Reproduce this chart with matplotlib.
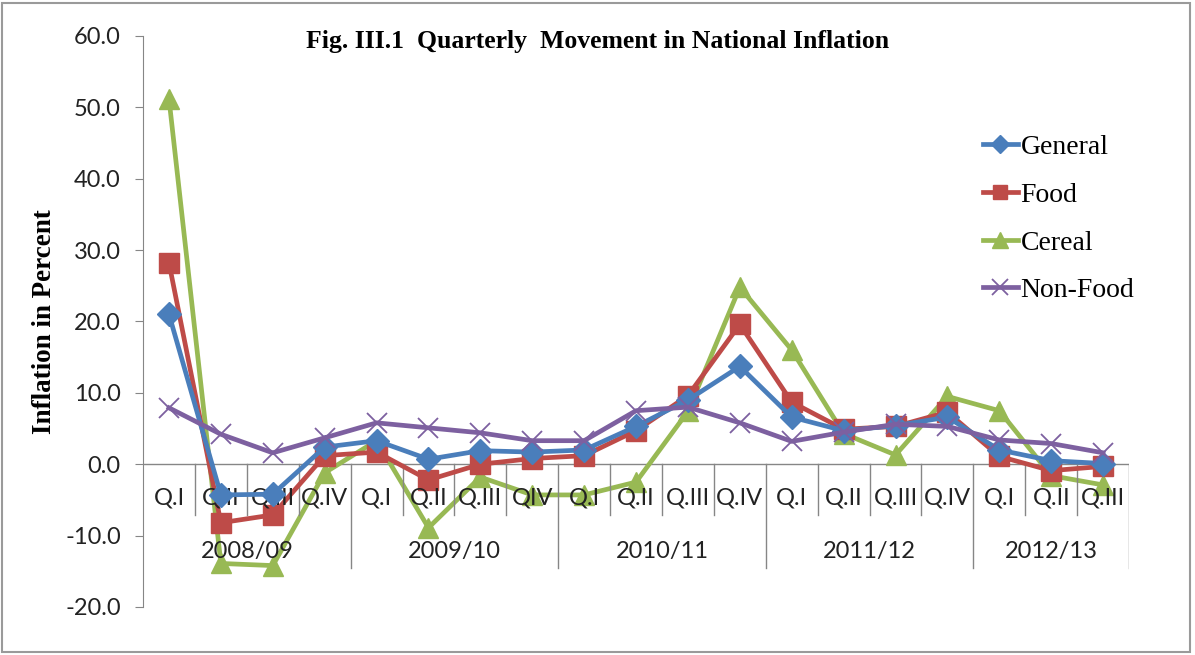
import numpy as np
import matplotlib
matplotlib.use("Agg")
import matplotlib.pyplot as plt
from matplotlib.patches import Rectangle

plt.rcParams['axes.unicode_minus'] = False

# quarterly inflation, 2008/09 Q.I .. 2012/13 Q.III
quarters = ["Q.I", "Q.II", "Q.III", "Q.IV",
            "Q.I", "Q.II", "Q.III", "QIV",
            "Q.I", "Q.II", "Q.III", "Q.IV",
            "Q.I", "Q.II", "Q.III", "Q.IV",
            "Q.I", "Q.II", "Q.III"]
years = ["2008/09", "2009/10", "2010/11", "2011/12", "2012/13"]
year_sizes = [4, 4, 4, 4, 3]

general = [21.0, -4.3, -4.2, 2.4, 3.3, 0.7, 1.9, 1.7, 2.0, 5.3, 9.0, 13.7, 6.6, 4.7, 5.4, 6.6, 2.0, 0.5, 0.1]
food = [28.2, -8.2, -7.1, 1.2, 1.7, -2.2, 0.0, 0.8, 1.2, 4.7, 9.6, 19.6, 8.7, 4.9, 5.3, 7.3, 1.1, -0.9, -0.3]
cereal = [51.2, -13.9, -14.2, -1.2, 3.3, -8.9, -1.8, -4.3, -4.3, -2.5, 7.4, 24.8, 16.0, 4.3, 1.3, 9.5, 7.5, -1.6, -2.9]
non_food = [7.9, 4.2, 1.6, 3.7, 5.8, 5.1, 4.4, 3.3, 3.3, 7.5, 8.0, 5.8, 3.2, 4.5, 5.6, 5.3, 3.4, 2.9, 1.6]

yticks = [-20, -10, 0, 10, 20, 30, 40, 50, 60]
ytick_labels = ["-20.0", "-10.0", "0.0", "10.0", "20.0", "30.0", "40.0", "50.0", "60.0"]

grey = "#868686"
sans = ["Lato", "DejaVu Sans"]
serif = ["Liberation Serif", "DejaVu Serif"]

fig = plt.figure(figsize=(11.95, 6.55), dpi=100)
ax = fig.add_axes([0.1197, 0.0733, 0.8251, 0.8718])

x = np.arange(len(quarters))
ax.plot(x, general, color="#4A7EBB", lw=3.4, marker="D", ms=12, label="General", zorder=4)
ax.plot(x, food, color="#BE4B48", lw=3.4, marker="s", ms=14, label="Food", zorder=3)
ax.plot(x, cereal, color="#98B954", lw=3.4, marker="^", ms=15, label="Cereal", zorder=2)
ax.plot(x, non_food, color="#7D60A0", lw=3.4, marker="x", ms=15, mew=1.3, label="Non-Food", zorder=5)

ax.set_xlim(-0.5, len(quarters) - 0.5)
ax.set_ylim(-20, 60)
ax.set_yticks(yticks)
ax.set_yticklabels(ytick_labels, fontfamily=sans, fontsize=17, color="#222222")
ax.tick_params(axis="y", direction="out", length=6, color=grey, pad=10)
ax.set_xticks([])
for s in ["top", "right", "bottom"]:
    ax.spines[s].set_visible(False)
ax.spines["left"].set_color(grey)
ax.axhline(0, color=grey, lw=1, zorder=1)

# category axis drawn on the zero line
for i, q in enumerate(quarters):
    ax.text(i, -4.8, q, ha="center", va="center", fontfamily=sans, fontsize=17, color="#222222")
bounds = np.concatenate([[0], np.cumsum(year_sizes)]) - 0.5
for i in range(1, len(quarters)):
    if i - 0.5 not in bounds:
        ax.plot([i - 0.5, i - 0.5], [0, -7.1], color=grey, lw=1)
for b in bounds[1:]:
    ax.plot([b, b], [0, -14.6], color=grey, lw=1)
for k, yr in enumerate(years):
    ax.text((bounds[k] + bounds[k + 1]) / 2, -12.2, yr, ha="center", va="center",
            fontfamily=sans, fontsize=17, color="#222222")

ax.set_ylabel("Inflation in Percent", fontfamily=serif, fontweight="bold", fontsize=19.5, labelpad=6)
fig.text(0.5, 0.937, "Fig. III.1  Quarterly  Movement in National Inflation", ha="center", va="center",
         fontfamily=serif, fontweight="bold", fontsize=18.5)

leg = ax.legend(loc="upper left", bbox_to_anchor=(0.852, 0.827), frameon=False, borderpad=0,
                borderaxespad=0, prop={"family": serif, "size": 20}, handlelength=1.25,
                handletextpad=0.1, labelspacing=0.8, markerscale=0.75)

fig.patches.append(Rectangle((0.002, 0.004), 0.994, 0.992, transform=fig.transFigure,
                             fill=False, edgecolor="#9a9a9a", lw=1.5))

fig.savefig("out.png", dpi=100)
